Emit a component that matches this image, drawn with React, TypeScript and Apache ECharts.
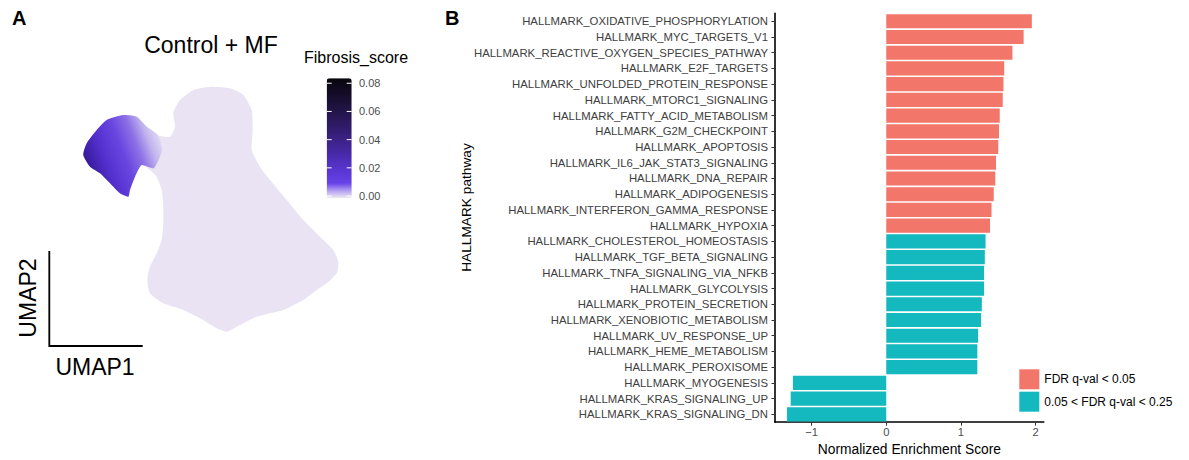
import React, { useEffect, useRef } from "react";
import * as echarts from "echarts";

// ---------- Panel B data ----------
const pathways = [
  "HALLMARK_OXIDATIVE_PHOSPHORYLATION",
  "HALLMARK_MYC_TARGETS_V1",
  "HALLMARK_REACTIVE_OXYGEN_SPECIES_PATHWAY",
  "HALLMARK_E2F_TARGETS",
  "HALLMARK_UNFOLDED_PROTEIN_RESPONSE",
  "HALLMARK_MTORC1_SIGNALING",
  "HALLMARK_FATTY_ACID_METABOLISM",
  "HALLMARK_G2M_CHECKPOINT",
  "HALLMARK_APOPTOSIS",
  "HALLMARK_IL6_JAK_STAT3_SIGNALING",
  "HALLMARK_DNA_REPAIR",
  "HALLMARK_ADIPOGENESIS",
  "HALLMARK_INTERFERON_GAMMA_RESPONSE",
  "HALLMARK_HYPOXIA",
  "HALLMARK_CHOLESTEROL_HOMEOSTASIS",
  "HALLMARK_TGF_BETA_SIGNALING",
  "HALLMARK_TNFA_SIGNALING_VIA_NFKB",
  "HALLMARK_GLYCOLYSIS",
  "HALLMARK_PROTEIN_SECRETION",
  "HALLMARK_XENOBIOTIC_METABOLISM",
  "HALLMARK_UV_RESPONSE_UP",
  "HALLMARK_HEME_METABOLISM",
  "HALLMARK_PEROXISOME",
  "HALLMARK_MYOGENESIS",
  "HALLMARK_KRAS_SIGNALING_UP",
  "HALLMARK_KRAS_SIGNALING_DN",
];
const nes = [
  1.95, 1.84, 1.69, 1.58, 1.57, 1.56, 1.52, 1.51, 1.5, 1.47, 1.46, 1.44, 1.41, 1.39,
  1.33, 1.32, 1.31, 1.31, 1.28, 1.27, 1.23, 1.22, 1.22, -1.25, -1.28, -1.33,
];
// 0 = FDR q-val < 0.05, 1 = 0.05 < FDR q-val < 0.25
const fdrGroup = [0, 0, 0, 0, 0, 0, 0, 0, 0, 0, 0, 0, 0, 0, 1, 1, 1, 1, 1, 1, 1, 1, 1, 1, 1, 1];
const fdrGroups = ["FDR q-val < 0.05", "0.05 < FDR q-val < 0.25"];
const groupColors = ["#F3766B", "#13B9BF"];
const xTicks = [-1, 0, 1, 2];

// ---------- Panel A data ----------
const scoreTicks = [0, 0.02, 0.04, 0.06, 0.08];
const scoreRange = [-0.0016, 0.0835];
const scoreColors = [
  "#EEEDF0", "#B4A0F2", "#6843E7", "#5E3ADB", "#5734CC", "#502FBB", "#4829A8", "#412595",
  "#3A2183", "#331D72", "#2D1A62", "#271752", "#201443", "#1A1035", "#140C27", "#0E0919", "#08060C",
];
// outline of the whole cell cloud (UMAP1, UMAP2)
const cloudOutline: [number, number][] = [
  [-2.0, 12.0], [-0.67, 13.0], [1.0, 13.33], [3.0, 13.17], [4.33, 12.5], [5.17, 11.0],
  [5.27, 9.0], [5.17, 7.0], [6.0, 5.33], [7.0, 4.0], [8.67, 2.0], [10.33, 0], [12.0, -1.67],
  [13.33, -3.0], [13.83, -4.17], [13.67, -5.33], [12.67, -6.33], [11.67, -7.0], [10.33, -8.0],
  [8.33, -9.0], [5.67, -9.67], [3.67, -10.67], [2.67, -11.17], [1.67, -10.83], [0.33, -10.0],
  [-1.67, -9.0], [-3.67, -8.33], [-5.0, -7.33], [-5.27, -6.0], [-5.0, -4.67], [-4.33, -3.33],
  [-3.83, -2.0], [-3.67, -0.33], [-3.67, 1.33], [-3.83, 3.0], [-4.33, 4.33], [-5.0, 5.0],
  [-5.83, 5.5], [-6.5, 4.33], [-7.0, 3.0], [-7.17, 2.33], [-8.0, 2.67], [-9.0, 3.67],
  [-10.0, 4.67], [-11.0, 5.33], [-11.67, 6.5], [-11.33, 7.67], [-10.33, 9.0], [-9.33, 10.0],
  [-7.67, 10.5], [-6.33, 10.33], [-5.33, 9.33], [-4.33, 8.5], [-3.0, 8.33], [-2.5, 9.33],
  [-2.67, 10.67], [-2.33, 11.5],
];
// outline of the high Fibrosis_score cluster
const clusterOutline: [number, number][] = [
  [-4.6, 5.2], [-5.83, 5.5], [-6.5, 4.33], [-7.0, 3.0], [-7.17, 2.33], [-8.0, 2.67],
  [-9.0, 3.67], [-10.0, 4.67], [-11.0, 5.33], [-11.67, 6.5], [-11.33, 7.67], [-10.33, 9.0],
  [-9.33, 10.0], [-7.67, 10.5], [-6.33, 10.33], [-5.33, 9.33], [-4.2, 8.5], [-3.8, 7.0],
];
const umapShapes = ["All cells", "Fibrotic cluster"];
const umapOutlines = [cloudOutline, clusterOutline];
const umapMeanScore = [0.002, 0.03];

const FONT = "'Liberation Sans', Arial, Helvetica, sans-serif";

export default function App() {
  const ref = useRef<HTMLDivElement>(null);
  useEffect(() => {
    const chart = echarts.init(ref.current!, null, { renderer: "svg" });

    const cbLeft = 326.7;
    const cbTop = 78.3;
    const cbW = 25;
    const cbH = 120;
    const scoreToY = (v: number) =>
      cbTop + (cbH * (scoreRange[1] - v)) / (scoreRange[1] - scoreRange[0]);

    const clusterFill = new echarts.graphic.LinearGradient(0, 0.7, 1, 0.3, [
      { offset: 0, color: "#2A1470" },
      { offset: 0.12, color: "#3D1EA6" },
      { offset: 0.3, color: "#5431CF" },
      { offset: 0.52, color: "#6A46E0" },
      { offset: 0.7, color: "#8D71E6" },
      { offset: 0.85, color: "#C2B3EE" },
      { offset: 1, color: "#E4DDF3" },
    ]);

    const graphics: any[] = [
      { type: "text", x: 12, y: 18.3, style: { text: "A", font: `bold 20px ${FONT}`, fill: "#000", textVerticalAlign: "middle" } },
      { type: "text", x: 445, y: 17.5, style: { text: "B", font: `bold 20px ${FONT}`, fill: "#000", textVerticalAlign: "middle" } },
      { type: "text", x: 211, y: 45, style: { text: "Control + MF", font: `23px ${FONT}`, fill: "#000", textAlign: "center", textVerticalAlign: "middle" } },
      { type: "text", x: 304, y: 57.5, style: { text: "Fibrosis_score", font: `16px ${FONT}`, fill: "#000", textVerticalAlign: "middle" } },
      { type: "polyline", shape: { points: [[49.3, 251], [49.3, 346], [142.7, 346]] }, style: { stroke: "#000", lineWidth: 1.8, fill: null } },
      { type: "text", x: 95, y: 366.7, style: { text: "UMAP1", font: `23px ${FONT}`, fill: "#000", textAlign: "center", textVerticalAlign: "middle" } },
      { type: "text", x: 27.5, y: 298, rotation: Math.PI / 2, style: { text: "UMAP2", font: `23px ${FONT}`, fill: "#000", textAlign: "center", textVerticalAlign: "middle" } },
      { type: "text", x: 466, y: 207.5, rotation: Math.PI / 2, style: { text: "HALLMARK pathway", font: `13.7px ${FONT}`, fill: "#000", textAlign: "center", textVerticalAlign: "middle" } },
    ];
    scoreTicks.forEach((v) => {
      const y = scoreToY(v);
      graphics.push({ type: "line", z: 100, shape: { x1: cbLeft, y1: y, x2: cbLeft + 5, y2: y }, style: { stroke: "#fff", lineWidth: 1 } });
      graphics.push({ type: "line", z: 100, shape: { x1: cbLeft + cbW - 5, y1: y, x2: cbLeft + cbW, y2: y }, style: { stroke: "#fff", lineWidth: 1 } });
      graphics.push({ type: "text", x: 359, y, style: { text: v.toFixed(2), font: `11px ${FONT}`, fill: "#4D4D4D", textVerticalAlign: "middle" } });
    });

    const option: any = {
      animation: false,
      backgroundColor: "#fff",
      textStyle: { fontFamily: FONT },
      grid: [
        { left: 775, top: 13.4, width: 268.8, height: 408.8, outerBoundsMode: "none", containLabel: false },
        { left: 0, top: 0, width: 400, height: 460, outerBoundsMode: "none", containLabel: false },
      ],
      xAxis: [
        {
          type: "value",
          gridIndex: 0,
          min: -1.49,
          max: 2.11,
          splitLine: { show: false },
          axisLine: { show: true, onZero: false, lineStyle: { color: "#000", width: 1.6 } },
          axisTick: { show: true, length: 3.5, lineStyle: { color: "#333", width: 1 }, customValues: xTicks },
          axisLabel: {
            show: true,
            customValues: xTicks,
            margin: 4,
            fontSize: 11.2,
            color: "#4D4D4D",
            fontFamily: FONT,
            formatter: (v: number) => (v < 0 ? "\u2212" + Math.abs(v) : String(v)),
          },
          name: "Normalized Enrichment Score",
          nameLocation: "middle",
          nameGap: 20,
          nameTextStyle: { fontSize: 13.8, color: "#000", fontFamily: FONT },
        },
        { type: "value", gridIndex: 1, min: -20, max: 20, show: false },
      ],
      yAxis: [
        {
          type: "category",
          gridIndex: 0,
          data: pathways,
          inverse: true,
          axisLine: { show: true, onZero: false, lineStyle: { color: "#000", width: 1.6 } },
          axisTick: { show: true, length: 3.5, alignWithLabel: true, lineStyle: { color: "#333", width: 1 } },
          axisLabel: { fontSize: 11.35, color: "#404040", margin: 7, fontFamily: FONT, interval: 0 },
          splitLine: { show: false },
        },
        { type: "value", gridIndex: 1, min: -24, max: 22, show: false },
      ],
      legend: {
        data: fdrGroups,
        orient: "vertical",
        left: 1019.3,
        top: 369.3,
        padding: 0,
        itemWidth: 20,
        itemHeight: 20,
        itemGap: 2.4,
        icon: "rect",
        selectedMode: false,
        textStyle: { fontSize: 12, color: "#000", fontFamily: FONT },
      },
      visualMap: {
        type: "continuous",
        seriesIndex: 2,
        dimension: 2,
        min: scoreRange[0],
        max: scoreRange[1],
        left: cbLeft,
        top: cbTop,
        itemWidth: cbW,
        itemHeight: cbH,
        padding: 0,
        calculable: false,
        hoverLink: false,
        orient: "vertical",
        inRange: { color: scoreColors },
      },
      series: [
        {
          name: fdrGroups[0],
          type: "bar",
          xAxisIndex: 0,
          yAxisIndex: 0,
          barWidth: "90%",
          barGap: "-100%",
          itemStyle: { color: groupColors[0] },
          data: nes.map((v, i) => (fdrGroup[i] === 0 ? v : "-")),
        },
        {
          name: fdrGroups[1],
          type: "bar",
          xAxisIndex: 0,
          yAxisIndex: 0,
          barWidth: "90%",
          barGap: "-100%",
          itemStyle: { color: groupColors[1] },
          data: nes.map((v, i) => (fdrGroup[i] === 1 ? v : "-")),
        },
        {
          name: "UMAP",
          type: "custom",
          xAxisIndex: 1,
          yAxisIndex: 1,
          silent: true,
          data: umapShapes.map((n, i) => {
            const o = umapOutlines[i];
            const cx = o.reduce((s, p) => s + p[0], 0) / o.length;
            const cy = o.reduce((s, p) => s + p[1], 0) / o.length;
            return { name: n, value: [cx, cy, umapMeanScore[i]] };
          }),
          renderItem: (params: any, api: any) => {
            const outline = umapOutlines[params.dataIndex];
            const points = outline.map((p) => api.coord(p));
            return {
              type: "polygon",
              shape: { points, smooth: 0.2 },
              style: { fill: params.dataIndex === 0 ? "#E9E3F3" : clusterFill, stroke: null },
            };
          },
        },
      ],
      graphic: graphics,
    };
    chart.setOption(option);
    return () => chart.dispose();
  }, []);
  return (
    <div
      ref={ref}
      style={{ position: "absolute", left: 0, top: 0, width: 1189, height: 460 }}
    />
  );
}
